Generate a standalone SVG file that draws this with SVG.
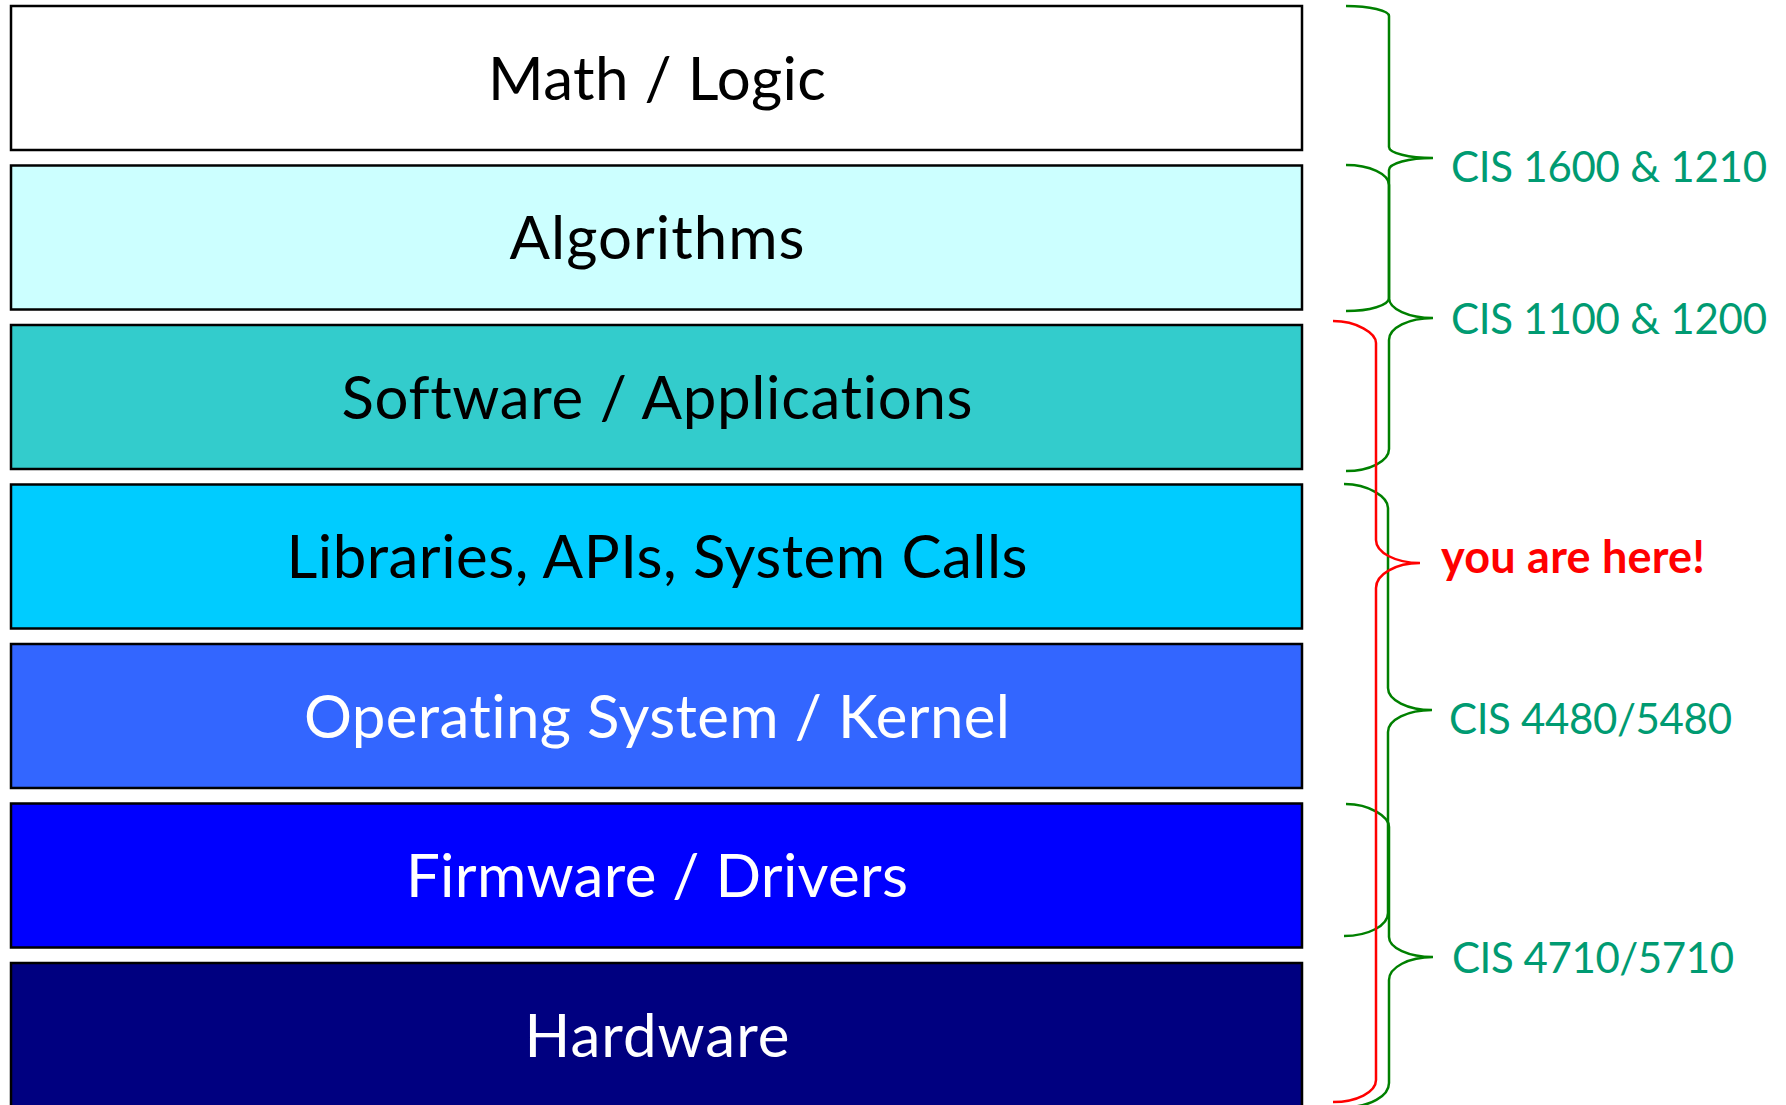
<svg xmlns="http://www.w3.org/2000/svg" width="1786" height="1105" viewBox="0 0 1786 1105">
<style>
.box{stroke:#000;stroke-width:2.5}
.lt{font-family:Lato,"Open Sans",sans-serif;font-size:60px;text-anchor:middle;font-variant-ligatures:none}
.dk{fill:#000}
.wh{fill:#fff}
.lbl{font-family:Lato,"Open Sans",sans-serif;font-size:42px;fill:#009B72}
.here{font-family:Lato,"Open Sans",sans-serif;font-size:45px;font-weight:bold;fill:#ff0000}
.g{fill:none;stroke:#008000;stroke-width:2.5}
.r{fill:none;stroke:#ff0000;stroke-width:2.5}
</style>
<rect width="1786" height="1105" fill="#fff"/>
<g id="math">
<rect class="box" x="11" y="6" width="1291" height="144" fill="#ffffff"/>
<text class="lt dk" x="657" y="100" textLength="338">Math / Logic</text>
</g>
<g id="algorithms">
<rect class="box" x="11" y="165.5" width="1291" height="144" fill="#ccffff"/>
<text class="lt dk" x="657" y="259" textLength="295">Algorithms</text>
</g>
<g id="software">
<rect class="box" x="11" y="325" width="1291" height="144" fill="#33cccc"/>
<text class="lt dk" x="657" y="419" textLength="631">Software / Applications</text>
</g>
<g id="libraries">
<rect class="box" x="11" y="484.5" width="1291" height="144" fill="#00ccff"/>
<text class="lt dk" x="657" y="578" textLength="741">Libraries, APIs, System Calls</text>
</g>
<g id="os">
<rect class="box" x="11" y="644" width="1291" height="144" fill="#3366ff"/>
<text class="lt wh" x="657" y="738" textLength="706">Operating System / Kernel</text>
</g>
<g id="firmware">
<rect class="box" x="11" y="803.5" width="1291" height="144" fill="#0000ff"/>
<text class="lt wh" x="657" y="897" textLength="502">Firmware / Drivers</text>
</g>
<g id="hardware">
<rect class="box" x="11" y="963" width="1291" height="150" fill="#000080"/>
<text class="lt wh" x="657" y="1057" textLength="265">Hardware</text>
</g>
<g id="connectors">
<path class="g" d="M1346,6 C1369.7,6 1389,10.5 1389,16 L1389,147 C1389,153.1 1408.7,158 1433,158 C1408.7,158 1389,163.4 1389,170 L1389,298 C1389,305.2 1369.7,311 1346,311"/>
<path class="g" d="M1346,165 C1369.7,165 1389,174 1389,185 L1389,298 C1389,309 1408.7,318 1433,318 C1408.7,318 1389,327.9 1389,340 L1389,449 C1389,461.1 1369.7,471 1346,471"/>
<path class="g" d="M1344,484 C1368.3,484 1388,497.2 1388,508 L1388,688 C1388,700.1 1407.7,710 1432,710 C1407.7,710 1388,719.9 1388,732 L1388,913 C1388,925.7 1368.3,936 1344,936"/>
<path class="g" d="M1346,804 C1369.7,804 1389,816.7 1389,827 L1389,937 C1389,948 1408.7,957 1433,957 C1408.7,957 1389,967.3 1389,980 L1389,1083 C1389,1096.2 1369.7,1107 1346,1107"/>
<path class="r" d="M1333,321 C1356.7,321 1376,333.1 1376,343 L1376,540 C1376,552.7 1395.7,563 1420,563 C1395.7,563 1376,574.2 1376,588 L1376,1080 C1376,1092.1 1356.7,1102 1333,1102"/>
</g>
<g id="labels">
<text class="lbl" x="1451" y="182" textLength="316">CIS 1600 &amp; 1210</text>
<text class="lbl" x="1451" y="334" textLength="316">CIS 1100 &amp; 1200</text>
<text class="here" x="1441" y="573" textLength="264">you are here!</text>
<text class="lbl" x="1449" y="734" textLength="283">CIS 4480/5480</text>
<text class="lbl" x="1452" y="973" textLength="282">CIS 4710/5710</text>
</g>
</svg>
